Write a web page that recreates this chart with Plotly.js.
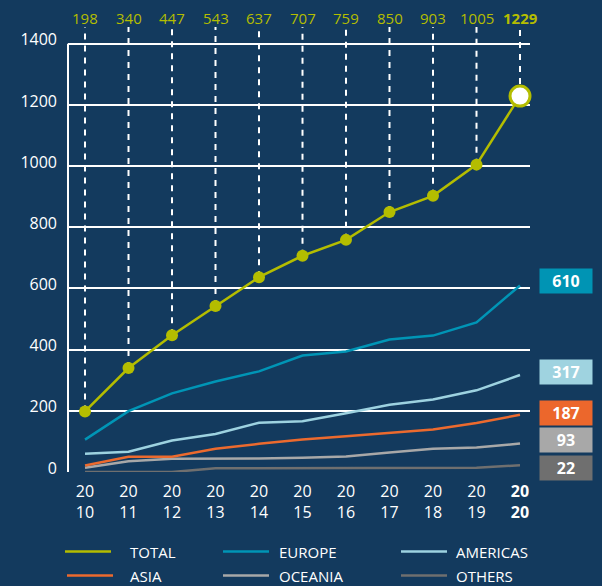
<!DOCTYPE html>
<html>
<head>
<meta charset="utf-8">
<script src="https://cdn.plot.ly/plotly-3.0.1.min.js"></script>
<style>html,body{margin:0;padding:0;background:#133a5e;}#chart{width:602px;height:586px;}</style>
</head>
<body>
<div id="chart"></div>
<script>
// ---- data ----
var years = [2010, 2011, 2012, 2013, 2014, 2015, 2016, 2017, 2018, 2019, 2020];
var yearLabels = ["20<br>10","20<br>11","20<br>12","20<br>13","20<br>14","20<br>15","20<br>16","20<br>17","20<br>18","20<br>19","<b>20<br>20</b>"];
var total    = [198, 340, 447, 543, 637, 707, 759, 850, 903, 1005, 1229];
var europe   = [106, 199, 257, 296, 329, 381, 394, 433, 446, 489, 610];
var americas = [60, 66, 103, 124, 161, 166, 192, 220, 237, 267, 317];
var asia     = [21, 50, 50, 76, 92, 106, 117, 128, 139, 160, 187];
var oceania  = [14, 35, 43, 43, 44, 47, 51, 64, 76, 80, 93];
var others   = [0, 0, 0, 12, 12, 12, 12, 12, 12, 14, 22];
var yTicks   = [0, 200, 400, 600, 800, 1000, 1200, 1400];

// ---- styles ----
var BG = '#133a5e';
var C = {total:'#b4bd00', europe:'#0095b6', americas:'#9dd2e0', asia:'#ec6a2e', oceania:'#a8a8a8', others:'#6f6f6f'};
var FONT = '"Open Sans", Lato, sans-serif';
var TOP = 1455;

// dashed guides from the top of the plot down to each total point
var guideX = [], guideY = [];
years.forEach(function(yr, i){ guideX.push(yr, yr, null); guideY.push(total[i], TOP, null); });

function line(name, y, color){
  return {x: years, y: y, name: name, type:'scatter', mode:'lines',
    line:{color:color, width:2.5}, hoverinfo:'skip', showlegend:false};
}
var last = years.length - 1;
var traces = [
  {x: guideX, y: guideY, type:'scatter', mode:'lines', line:{color:'#ffffff', width:2, dash:'6px,6px'},
   hoverinfo:'skip', showlegend:false},
  line('OTHERS', others, C.others),
  line('OCEANIA', oceania, C.oceania),
  line('ASIA', asia, C.asia),
  line('AMERICAS', americas, C.americas),
  line('EUROPE', europe, C.europe),
  {x: years, y: total, name:'TOTAL', type:'scatter', mode:'lines+markers', cliponaxis:false,
   line:{color:C.total, width:2.5}, showlegend:false, hoverinfo:'skip',
   marker:{opacity:1, size: years.map(function(y,i){return i===last?20:12;}),
           color: years.map(function(y,i){return i===last?'#ffffff':C.total;}),
           line:{color:C.total, width: years.map(function(y,i){return i===last?3:0;})}}}
];

var shapes = [];
var annotations = [];
// value labels above the plot
years.forEach(function(yr, i){
  annotations.push({xref:'x', yref:'paper', x:yr, y:(472-18)/445, text: i===last ? '<b>'+total[i]+'</b>' : String(total[i]),
    showarrow:false, font:{family:FONT, size:15, color:C.total}, xanchor:'center', yanchor:'middle'});
});
// left axis line
shapes.push({type:'line', xref:'paper', yref:'y', x0:0, x1:0, y0:0, y1:1400, line:{color:'#ffffff', width:2}});

// end value boxes
var boxes = [
  {v: europe[last], c: '#0094b4', y: 626},
  {v: americas[last], c: '#9fd3e0', y: 327},
  {v: asia[last], c: '#ec672c', y: 193},
  {v: oceania[last], c: '#a8a8a8', y: 104.5},
  {v: others[last], c: '#6f6f6f', y: 13}
];
boxes.forEach(function(b){
  annotations.push({xref:'paper', yref:'y', x:(566-68)/462, y:b.y, text:'<b>'+b.v+'</b>', showarrow:false,
    width:52, height:24, bgcolor:b.c, borderpad:0, xanchor:'center', yanchor:'middle',
    font:{family:FONT, size:16, color:'#ffffff'}});
});

// legend (manual)
var legendItems = [
  {n:'TOTAL', c:C.total, lx:65, tx:129, py:551.5},
  {n:'EUROPE', c:C.europe, lx:223, tx:278, py:551.5},
  {n:'AMERICAS', c:C.americas, lx:401, tx:455, py:551.5},
  {n:'ASIA', c:C.asia, lx:67, tx:129, py:575.5},
  {n:'OCEANIA', c:C.oceania, lx:223, tx:278, py:575.5},
  {n:'OTHERS', c:C.others, lx:401, tx:455, py:575.5}
];
function px(x){return (x-68)/462;}
function py(y){return (472-y)/445;}
legendItems.forEach(function(it){
  shapes.push({type:'line', xref:'paper', yref:'paper', x0:px(it.lx), x1:px(it.lx+46), y0:py(it.py), y1:py(it.py),
    line:{color:it.c, width:2.5}});
  annotations.push({xref:'paper', yref:'paper', x:px(it.tx), y:py(it.py), text:it.n, showarrow:false,
    xanchor:'left', yanchor:'middle', borderpad:0, valign:'middle',
    font:{family:FONT, size:15, color:'#ffffff'}});
});

var layout = {
  width:602, height:586,
  paper_bgcolor:BG, plot_bgcolor:BG,
  margin:{l:68, r:72, t:27, b:114, pad:0},
  showlegend:false,
  font:{family:FONT, color:'#ffffff', size:16},
  xaxis:{range:[2009.609, 2020.23], tickvals:years, ticktext:yearLabels, showgrid:false, zeroline:false,
    showline:false, ticks:'', ticklabelstandoff:8, tickfont:{family:FONT, size:16, color:'#ffffff'}, fixedrange:true},
  yaxis:{range:[0, TOP], tickvals:yTicks, ticktext:yTicks.map(String), showgrid:true, gridcolor:'#ffffff', gridwidth:2,
    zeroline:false, showline:false, ticks:'', ticklabelstandoff:10, ticklabelshift:-4,
    tickfont:{family:FONT, size:16, color:'#ffffff'}, fixedrange:true},
  shapes:shapes,
  annotations:annotations
};
Plotly.newPlot('chart', traces, layout, {displayModeBar:false, staticPlot:true});
</script>
</body>
</html>
